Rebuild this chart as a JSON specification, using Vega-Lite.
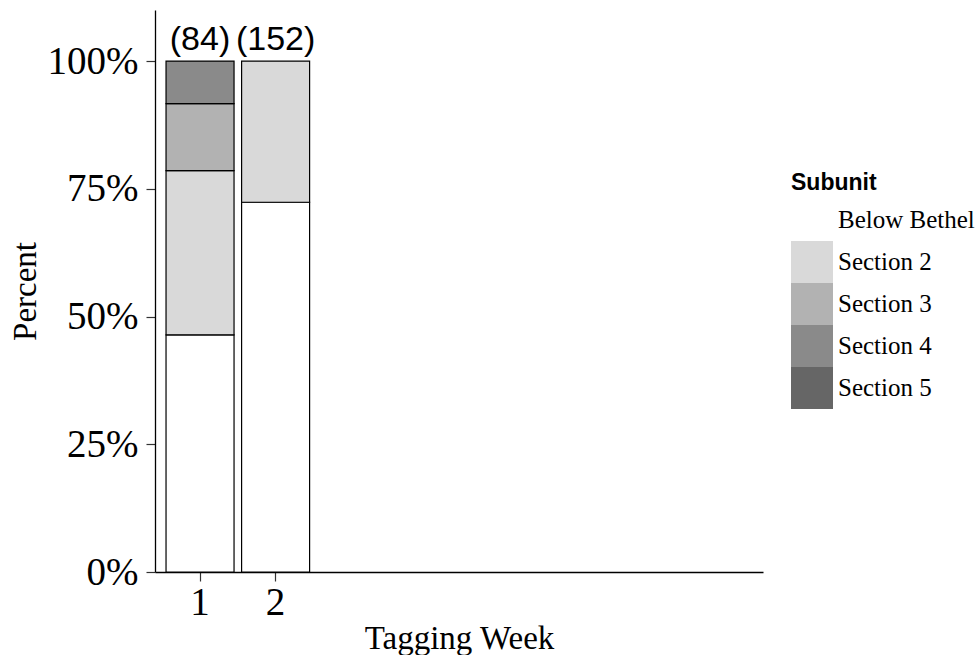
{
  "$schema": "https://vega.github.io/schema/vega-lite/v6.json",
  "width": 608,
  "height": 562,
  "autosize": {"type": "none"},
  "padding": {"left": 155, "top": 10, "right": 213, "bottom": 83},
  "background": "white",
  "config": {
    "view": {"stroke": null},
    "axis": {"grid": false, "domainColor": "black", "domainWidth": 1.3, "tickColor": "#333333", "tickWidth": 1.2, "labelColor": "black", "titleColor": "black", "labelFont": "Liberation Serif", "titleFont": "Liberation Serif", "titleFontWeight": "normal"}
  },
  "datasets": {
    "counts": [
      {"week": "1", "subunit": "Below Bethel", "n": 39},
      {"week": "1", "subunit": "Section 2", "n": 27},
      {"week": "1", "subunit": "Section 3", "n": 11},
      {"week": "1", "subunit": "Section 4", "n": 7},
      {"week": "2", "subunit": "Below Bethel", "n": 110},
      {"week": "2", "subunit": "Section 2", "n": 42}
    ],
    "totals": [
      {"week": "1", "pos": 1, "label": "(84)"},
      {"week": "2", "pos": 1, "label": "(152)"}
    ]
  },
  "layer": [
    {
      "data": {"name": "counts"},
      "mark": {"type": "bar", "stroke": "black", "strokeWidth": 1.2},
      "encoding": {
        "x": {
          "field": "week", "type": "ordinal",
          "scale": {"domain": ["1","2","3","4","5","6","7","8"], "paddingInner": 0.1, "paddingOuter": 0.073, "align": 1},
          "axis": {"values": ["1","2"], "title": "Tagging Week", "labelAngle": 0, "labelFontSize": 39, "titleFontSize": 33, "tickSize": 9, "labelPadding": 2, "titlePadding": 0}
        },
        "y": {
          "aggregate": "sum", "field": "n", "type": "quantitative",
          "stack": "normalize",
          "scale": {"domain": [0, 1.1], "nice": false},
          "axis": {"values": [0, 0.25, 0.5, 0.75, 1], "format": ".0%", "title": "Percent", "labelFontSize": 39, "titleFontSize": 33, "tickSize": 9, "labelPadding": 8, "titlePadding": 5}
        },
        "color": {
          "field": "subunit", "type": "nominal",
          "scale": {"domain": ["Below Bethel", "Section 2", "Section 3", "Section 4", "Section 5"], "range": ["#ffffff", "#d9d9d9", "#b2b2b2", "#8a8a8a", "#666666"]},
          "legend": {
            "title": "Subunit", "orient": "none", "legendX": 636, "legendY": 162,
            "titleFont": "Liberation Sans", "titleFontSize": 23, "titleFontWeight": "bold", "titleColor": "black", "titlePadding": 4,
            "labelFont": "Liberation Serif", "labelFontSize": 25, "labelColor": "black", "labelOffset": 5,
            "symbolType": "square", "symbolSize": 1764, "symbolStrokeWidth": 0, "rowPadding": 0, "padding": 0
          }
        },
        "order": {"field": "subunit", "sort": "ascending"}
      }
    },
    {
      "data": {"name": "totals"},
      "mark": {"type": "text", "font": "Liberation Sans", "fontSize": 34, "baseline": "alphabetic", "dy": -11, "color": "black"},
      "encoding": {
        "x": {"field": "week", "type": "ordinal"},
        "y": {"field": "pos", "type": "quantitative"},
        "text": {"field": "label"}
      }
    }
  ]
}
